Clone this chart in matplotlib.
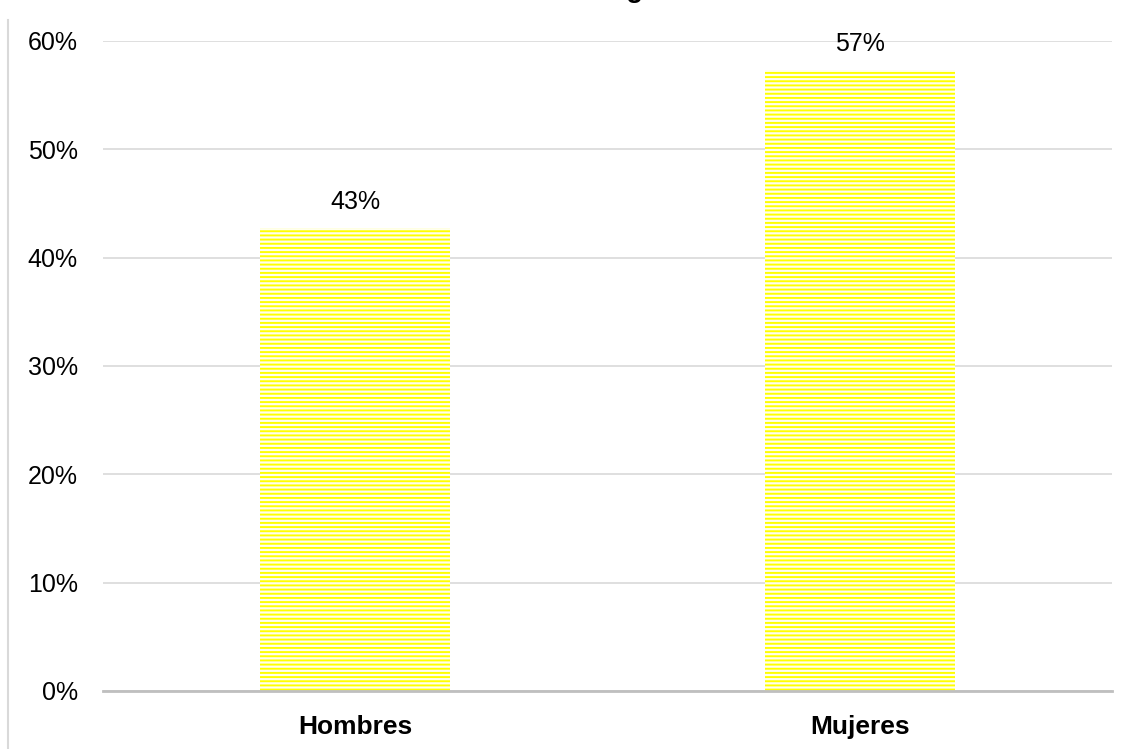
import matplotlib.pyplot as plt
from matplotlib.lines import Line2D
from matplotlib.ticker import PercentFormatter

categories = ['Hombres', 'Mujeres']
values = [0.427, 0.573]
labels = ['43%', '57%']
yticks = [0, 0.1, 0.2, 0.3, 0.4, 0.5, 0.6]

plt.rcParams['font.family'] = ['Liberation Sans', 'DejaVu Sans']
plt.rcParams['hatch.linewidth'] = 1.4

fig = plt.figure(figsize=(11.3, 7.49), dpi=100)
ax = fig.add_axes([103 / 1130, 1 - 691 / 749, 1009 / 1130, 650 / 749])

x = range(len(categories))
# pattern fill: yellow horizontal lines on a pale background
ax.bar(x, values, width=0.377, color='#FFFFF0', edgecolor='#FFFF00',
       linewidth=0, hatch='----', zorder=2)

for xi, v, lab in zip(x, values, labels):
    ax.annotate(lab, (xi, v), xytext=(0, 14), textcoords='offset pixels',
                ha='center', va='bottom', fontsize=18, color='#000000')

ax.set_xlim(-0.5, 1.5)
ax.set_ylim(0, 0.6)
ax.set_yticks(yticks)
ax.yaxis.set_major_formatter(PercentFormatter(1.0, decimals=0))
ax.set_xticks(list(x))
ax.set_xticklabels(categories, fontsize=19, fontweight='bold')
ax.tick_params(axis='y', length=0, pad=18, labelsize=18)
ax.tick_params(axis='x', length=0, pad=17)
ax.grid(axis='y', color='#D9D9D9', linewidth=1.2, zorder=0)
ax.set_axisbelow(True)
for s in ['top', 'right', 'left']:
    ax.spines[s].set_visible(False)
ax.spines['bottom'].set_color('#BFBFBF')
ax.spines['bottom'].set_linewidth(2)
ax.spines['bottom'].set_zorder(3)

# chart area border, cropped on the left
fig.add_artist(Line2D([8 / 1130, 8 / 1130], [0, 1 - 20 / 749],
                      color='#D9D9D9', linewidth=1.5))

# title mostly cut off above the image
fig.text(0.5 + 22 / 1130, 1.004, 'Distribución según sexo', ha='center',
         va='baseline', fontsize=20, fontweight='bold')

fig.savefig('out.png', dpi=100)
